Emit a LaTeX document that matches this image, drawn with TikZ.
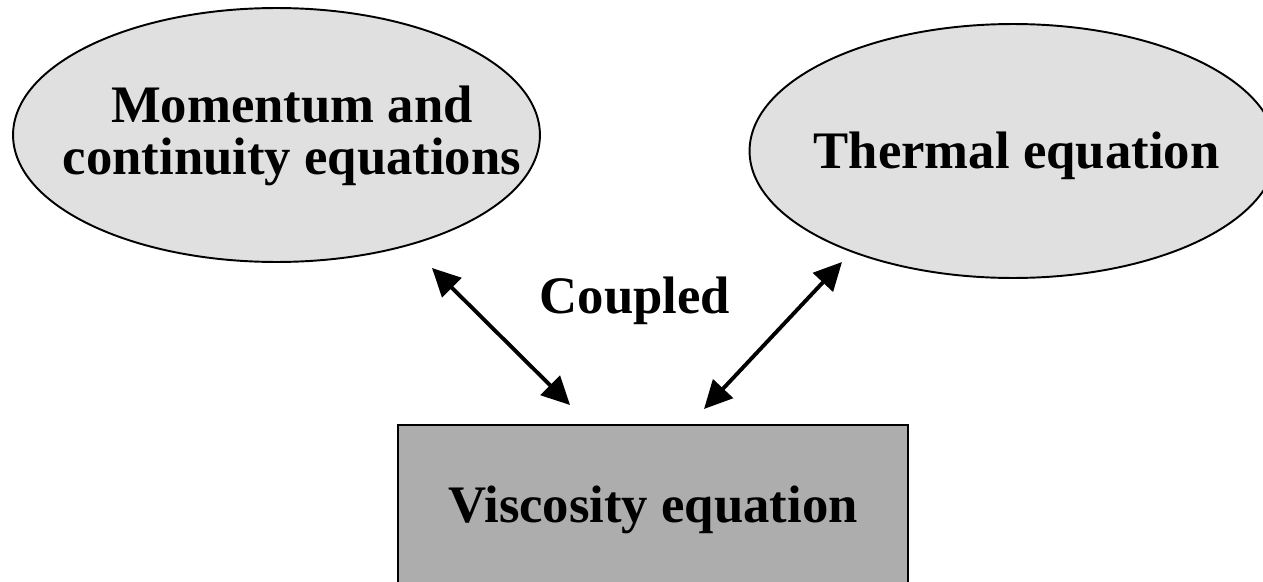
\documentclass[tikz,border=0pt]{standalone}
\usepackage{fontspec}
\setmainfont{Liberation Serif}
\usepackage{tikz}
\usetikzlibrary{arrows.meta,shapes.geometric}
\definecolor{bubblefill}{HTML}{E0E0E0}
\definecolor{boxfill}{HTML}{ADADAD}

\begin{document}
\begin{tikzpicture}[x=0.02cm,y=-0.02cm,
  font=\fontsize{30}{30}\selectfont\bfseries,
  bubble/.style={ellipse,draw,line width=1.1pt,fill=bubblefill,
    minimum width=10.54cm,minimum height=5.08cm,inner sep=0pt},
  eqbox/.style={rectangle,draw,line width=1.6pt,fill=boxfill,
    minimum width=10.2cm,minimum height=3.4cm,inner sep=0pt},
  eqtext/.style={align=center,inner sep=0pt},
  coupling/.style={{Triangle[length=0.56cm,width=0.54cm]}-{Triangle[length=0.56cm,width=0.54cm]},
    line width=2.2pt}]
\useasboundingbox (0,0) rectangle (1263,581);
\clip (0,0) rectangle (1263,581);
% the two coupled equations
\node[bubble] (momentum) at (276.5,135) {};
\node[eqtext] (momentum-text) at (292,136) {Momentum and\\continuity equations};
\node[bubble] (thermal) at (1013,151) {};
\node[eqtext] (thermal-text) at (1016.5,155.5) {Thermal equation};
% viscosity block
\node[eqbox] (viscosity) at (653,510) {Viscosity equation};
\node[eqtext] (coupled) at (635,300.5) {Coupled};
% arrow ends
\coordinate (momentum-end) at (432,268);
\coordinate (viscosity-left) at (570,405);
\coordinate (thermal-end) at (842,262);
\coordinate (viscosity-right) at (704,409);
\draw[coupling] (momentum-end) -- (viscosity-left);
\draw[coupling] (thermal-end) -- (viscosity-right);
\end{tikzpicture}
\end{document}
